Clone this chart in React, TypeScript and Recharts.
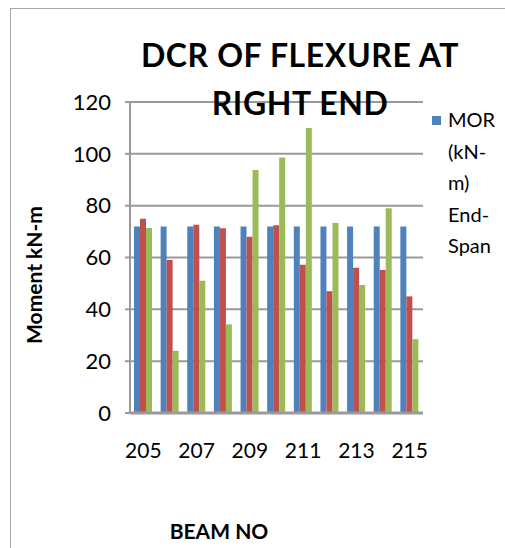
import React from 'react'
import { BarChart, Bar, XAxis, YAxis, CartesianGrid, Legend } from 'recharts'

const beams = ['205', '206', '207', '208', '209', '210', '211', '212', '213', '214', '215']
const morEndSpan = [72, 72, 72, 72, 72, 72, 72, 72, 72, 72, 72]
const series2 = [75, 59, 72.6, 71.3, 68, 72.4, 57.2, 47, 56, 55.2, 45]
const series3 = [71.4, 24, 51, 34.2, 93.8, 98.6, 110, 73.3, 49.4, 79, 28.5]
const yTicks = [0, 20, 40, 60, 80, 100, 120]

const data = beams.map((beam, i) => ({
  beam,
  mor: morEndSpan[i],
  s2: series2[i],
  s3: series3[i],
}))

const FONT = 'Lato, "Open Sans", sans-serif'

function LegendContent({ payload }: { payload?: Array<{ value: string; color: string }> }) {
  if (!payload?.length) return null
  const first = payload[0]
  return (
    <div style={{ position: 'relative', fontFamily: FONT, fontSize: 20, lineHeight: '31.5px', color: '#000' }}>
      <span
        style={{
          position: 'absolute',
          left: 0,
          top: 12,
          width: 9,
          height: 9,
          background: first.color,
        }}
      />
      <div style={{ paddingLeft: 16 }}>
        MOR<br />(kN-<br />m)<br />End-<br />Span
      </div>
    </div>
  )
}

export default function App() {
  return (
    <div
      style={{
        position: 'fixed',
        left: 0,
        top: 0,
        width: 505,
        height: 548,
        overflow: 'hidden',
        background: '#fff',
      }}
    >
      <div
        style={{
          position: 'absolute',
          left: 10,
          top: 8,
          width: 600,
          height: 600,
          borderLeft: '1px solid #a6a6a6',
          borderTop: '1px solid #a6a6a6',
        }}
      />
      <BarChart
        width={505}
        height={548}
        data={data}
        margin={{ top: 102, right: 12, bottom: 0, left: 0 }}
        barCategoryGap="15%"
        barGap={0}
        style={{ position: 'absolute', left: 0, top: 0 }}
      >
        <CartesianGrid vertical={false} stroke="#9a9a9a" strokeWidth={2} />
        <XAxis
          dataKey="beam"
          height={135}
          interval={1}
          tickLine={false}
          axisLine={{ stroke: '#9a9a9a', strokeWidth: 3 }}
          tickMargin={30}
          tickSize={0}
          tick={{ fill: '#000', fontSize: 21, fontFamily: FONT }}
        />
        <YAxis
          width={130}
          domain={[0, 120]}
          ticks={yTicks}
          tickSize={5}
          tickMargin={14}
          axisLine={{ stroke: '#9a9a9a', strokeWidth: 2 }}
          tickLine={{ stroke: '#9a9a9a', strokeWidth: 2 }}
          tick={{ fill: '#000', fontSize: 22, fontFamily: FONT }}
        />
        <Legend
          layout="vertical"
          verticalAlign="top"
          align="right"
          content={<LegendContent />}
          wrapperStyle={{ position: 'absolute', left: 432, top: 104, width: 70 }}
        />
        <Bar dataKey="mor" name="MOR (kN-m) End-Span" fill="#4F81BD" isAnimationActive={false} />
        <Bar dataKey="s2" name="Series 2" fill="#C0504D" isAnimationActive={false} />
        <Bar dataKey="s3" name="Series 3" fill="#9BBB59" isAnimationActive={false} />
      </BarChart>
      <div
        style={{
          position: 'absolute',
          left: 300,
          top: 31,
          transform: 'translateX(-50%)',
          width: 380,
          textAlign: 'center',
          fontFamily: FONT,
          fontWeight: 700,
          fontSize: 32,
          letterSpacing: 0.6,
          lineHeight: '48px',
          color: '#000',
          pointerEvents: 'none',
        }}
      >
        DCR OF FLEXURE AT<br />RIGHT END
      </div>
      <div
        style={{
          position: 'absolute',
          left: 33,
          top: 275,
          transform: 'translate(-50%, -50%) rotate(-90deg)',
          whiteSpace: 'nowrap',
          fontFamily: FONT,
          fontWeight: 700,
          fontSize: 21,
          color: '#000',
        }}
      >
        Moment kN-m
      </div>
      <div
        style={{
          position: 'absolute',
          left: 219,
          top: 518,
          transform: 'translateX(-50%)',
          whiteSpace: 'nowrap',
          fontFamily: FONT,
          fontWeight: 700,
          fontSize: 21,
          color: '#000',
        }}
      >
        BEAM NO
      </div>
    </div>
  )
}
